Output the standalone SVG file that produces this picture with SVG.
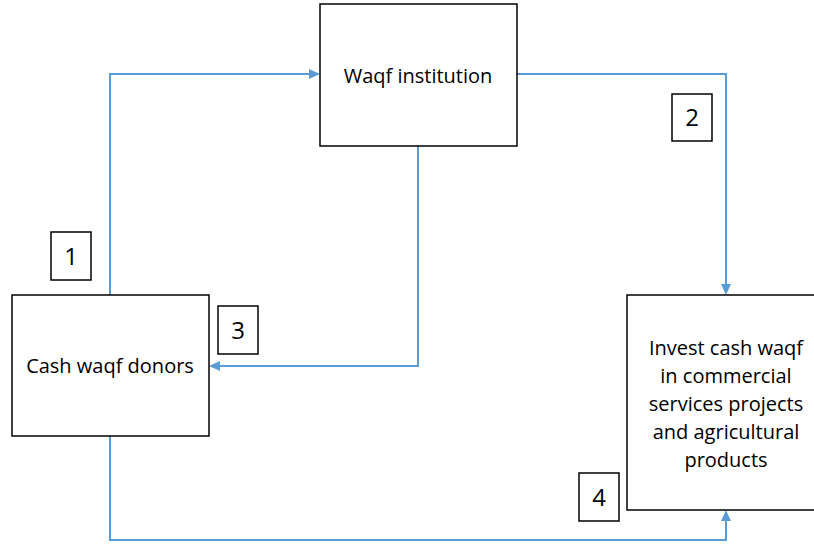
<svg xmlns="http://www.w3.org/2000/svg" width="814" height="544" viewBox="0 0 814 544">
  <style>
    .box { fill: #ffffff; stroke: #000000; stroke-width: 1.5; }
    .tag { fill: #ffffff; stroke: #000000; stroke-width: 1.5; }
    .label { font-family: "Open Sans", "Liberation Sans", sans-serif; font-size: 20px; fill: #000000; text-anchor: middle; }
    .num { font-family: "Open Sans", "Liberation Sans", sans-serif; font-size: 24px; fill: #000000; text-anchor: middle; }
    .link { fill: none; stroke: #5B9BD5; stroke-width: 2; }
    .head { fill: #5B9BD5; }
  </style>
  <rect width="814" height="544" fill="#ffffff"/>

  <g id="connectors">
    <path class="link" d="M110,295 V74 H312"/>
    <path class="link" d="M517,74 H726 V287"/>
    <path class="link" d="M418,146 V366 H217"/>
    <path class="link" d="M110,436 V540 H726 V518"/>
    <polygon class="head" points="320,74 309,69 309,79"/>
    <polygon class="head" points="726,295 721,284 731,284"/>
    <polygon class="head" points="209,366 220,361 220,371"/>
    <polygon class="head" points="726,510 721,521 731,521"/>
  </g>

  <g id="waqf-institution">
    <rect class="box" x="320" y="4" width="197" height="142"/>
    <text class="label" x="418" y="83">Waqf institution</text>
  </g>

  <g id="cash-donors">
    <rect class="box" x="12" y="295" width="197" height="141"/>
    <text class="label" x="110" y="373">Cash waqf donors</text>
  </g>

  <g id="invest">
    <rect class="box" x="627" y="295" width="195" height="215"/>
    <text class="label" x="726" y="355">Invest cash waqf</text>
    <text class="label" x="726" y="383">in commercial</text>
    <text class="label" x="726" y="411">services projects</text>
    <text class="label" x="726" y="439">and agricultural</text>
    <text class="label" x="726" y="467">products</text>
  </g>

  <g id="step-1">
    <rect class="tag" x="51" y="232" width="40" height="48"/>
    <text class="num" x="71" y="265">1</text>
  </g>
  <g id="step-2">
    <rect class="tag" x="672" y="94" width="40" height="47"/>
    <text class="num" x="692" y="126">2</text>
  </g>
  <g id="step-3">
    <rect class="tag" x="218" y="306" width="40" height="48"/>
    <text class="num" x="238" y="339">3</text>
  </g>
  <g id="step-4">
    <rect class="tag" x="579" y="473" width="40" height="48"/>
    <text class="num" x="599" y="506">4</text>
  </g>
</svg>
